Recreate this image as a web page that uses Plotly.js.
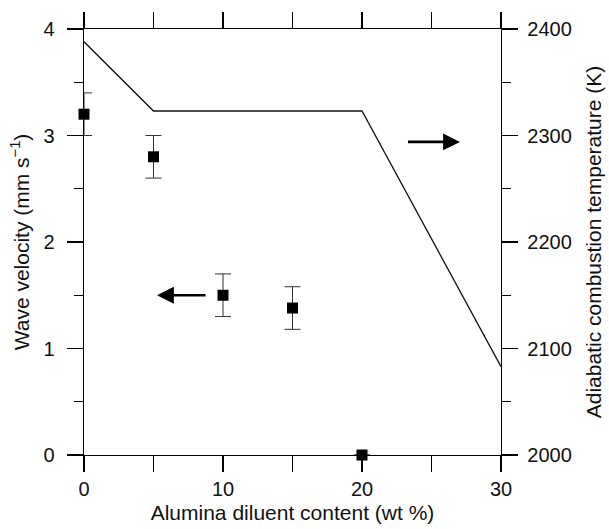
<!DOCTYPE html>
<html>
<head>
<meta charset="utf-8">
<script src="https://cdn.plot.ly/plotly-3.0.1.min.js"></script>
<style>html,body{margin:0;padding:0;background:#fff;}#chart{width:609px;height:529px;}</style>
</head>
<body>
<div id="chart"></div>
<script>
// Data
const diluent = [0, 5, 10, 15, 20];
const waveVelocity = [3.2, 2.8, 1.5, 1.38, 0];
const velocityError = [0.2, 0.2, 0.2, 0.2, 0];
const tempDiluent = [0, 5, 20, 30];
const adiabaticTemp = [2388, 2323, 2323, 2083];
const xTickVals = [0, 10, 20, 30];
const yTickVals = [0, 1, 2, 3, 4];
const y2TickVals = [2000, 2100, 2200, 2300, 2400];

const fontFam = 'Liberation Sans, Arial, Helvetica, sans-serif';
const tickFontSize = 20;
const titleFontSize = 21;

const traces = [
  {
    x: tempDiluent, y: adiabaticTemp, yaxis: 'y2', type: 'scatter', mode: 'lines',
    line: {color: '#111', width: 1.3}, cliponaxis: false, hoverinfo: 'skip'
  },
  {
    x: diluent, y: waveVelocity, type: 'scatter', mode: 'markers',
    marker: {symbol: 'square', size: 11, color: '#000'},
    error_y: {type: 'data', array: velocityError, visible: true, color: '#333', thickness: 1, width: 8},
    cliponaxis: false
  }
];

const axisCommon = {
  showgrid: false, zeroline: false, showline: true, linecolor: '#000', linewidth: 1.3,
  ticks: 'outside', ticklen: 16, tickwidth: 1.2, tickcolor: '#000',
  tickfont: {family: fontFam, size: tickFontSize, color: '#111'}
};

const layout = {
  width: 609, height: 529,
  margin: {l: 84, r: 108, t: 29, b: 74},
  paper_bgcolor: '#fff', plot_bgcolor: '#fff',
  showlegend: false,
  xaxis: Object.assign({}, axisCommon, {
    range: [0, 30], tickvals: xTickVals, mirror: 'allticks',
    minor: {dtick: 5, tick0: 0, ticklen: 9, ticks: 'outside', tickcolor: '#000', tickwidth: 1.2},
    ticklabelstandoff: 0,
    title: {text: 'Alumina diluent content (wt %)', font: {family: fontFam, size: titleFontSize, color: '#111'}, standoff: 6}
  }),
  yaxis: Object.assign({}, axisCommon, {
    range: [0, 4], tickvals: yTickVals,
    minor: {dtick: 0.5, tick0: 0, ticklen: 9, ticks: 'outside', tickcolor: '#000', tickwidth: 1.2},
    ticklabelstandoff: 8,
    title: {text: 'Wave velocity (mm s<sup>−1</sup>)', font: {family: fontFam, size: titleFontSize, color: '#111'}, standoff: 8}
  }),
  yaxis2: Object.assign({}, axisCommon, {
    range: [2000, 2400], tickvals: y2TickVals, overlaying: 'y', side: 'right',
    minor: {dtick: 50, tick0: 2000, ticklen: 9, ticks: 'outside', tickcolor: '#000', tickwidth: 1.2},
    ticklabelstandoff: 5,
    title: {text: 'Adiabatic combustion temperature (K)', font: {family: fontFam, size: titleFontSize, color: '#111'}, standoff: 15}
  }),
  annotations: [
    {x: 5.25, y: 1.5, ax: 8.85, ay: 1.5, xref: 'x', yref: 'y', axref: 'x', ayref: 'y',
     showarrow: true, arrowhead: 2, arrowsize: 1.3, arrowwidth: 2.6, arrowcolor: '#000', text: ''},
    {x: 27.05, y: 2.94, ax: 23.2, ay: 2.94, xref: 'x', yref: 'y', axref: 'x', ayref: 'y',
     showarrow: true, arrowhead: 2, arrowsize: 1.3, arrowwidth: 2.6, arrowcolor: '#000', text: ''}
  ]
};

Plotly.newPlot('chart', traces, layout, {displayModeBar: false, staticPlot: true});
</script>
</body>
</html>
